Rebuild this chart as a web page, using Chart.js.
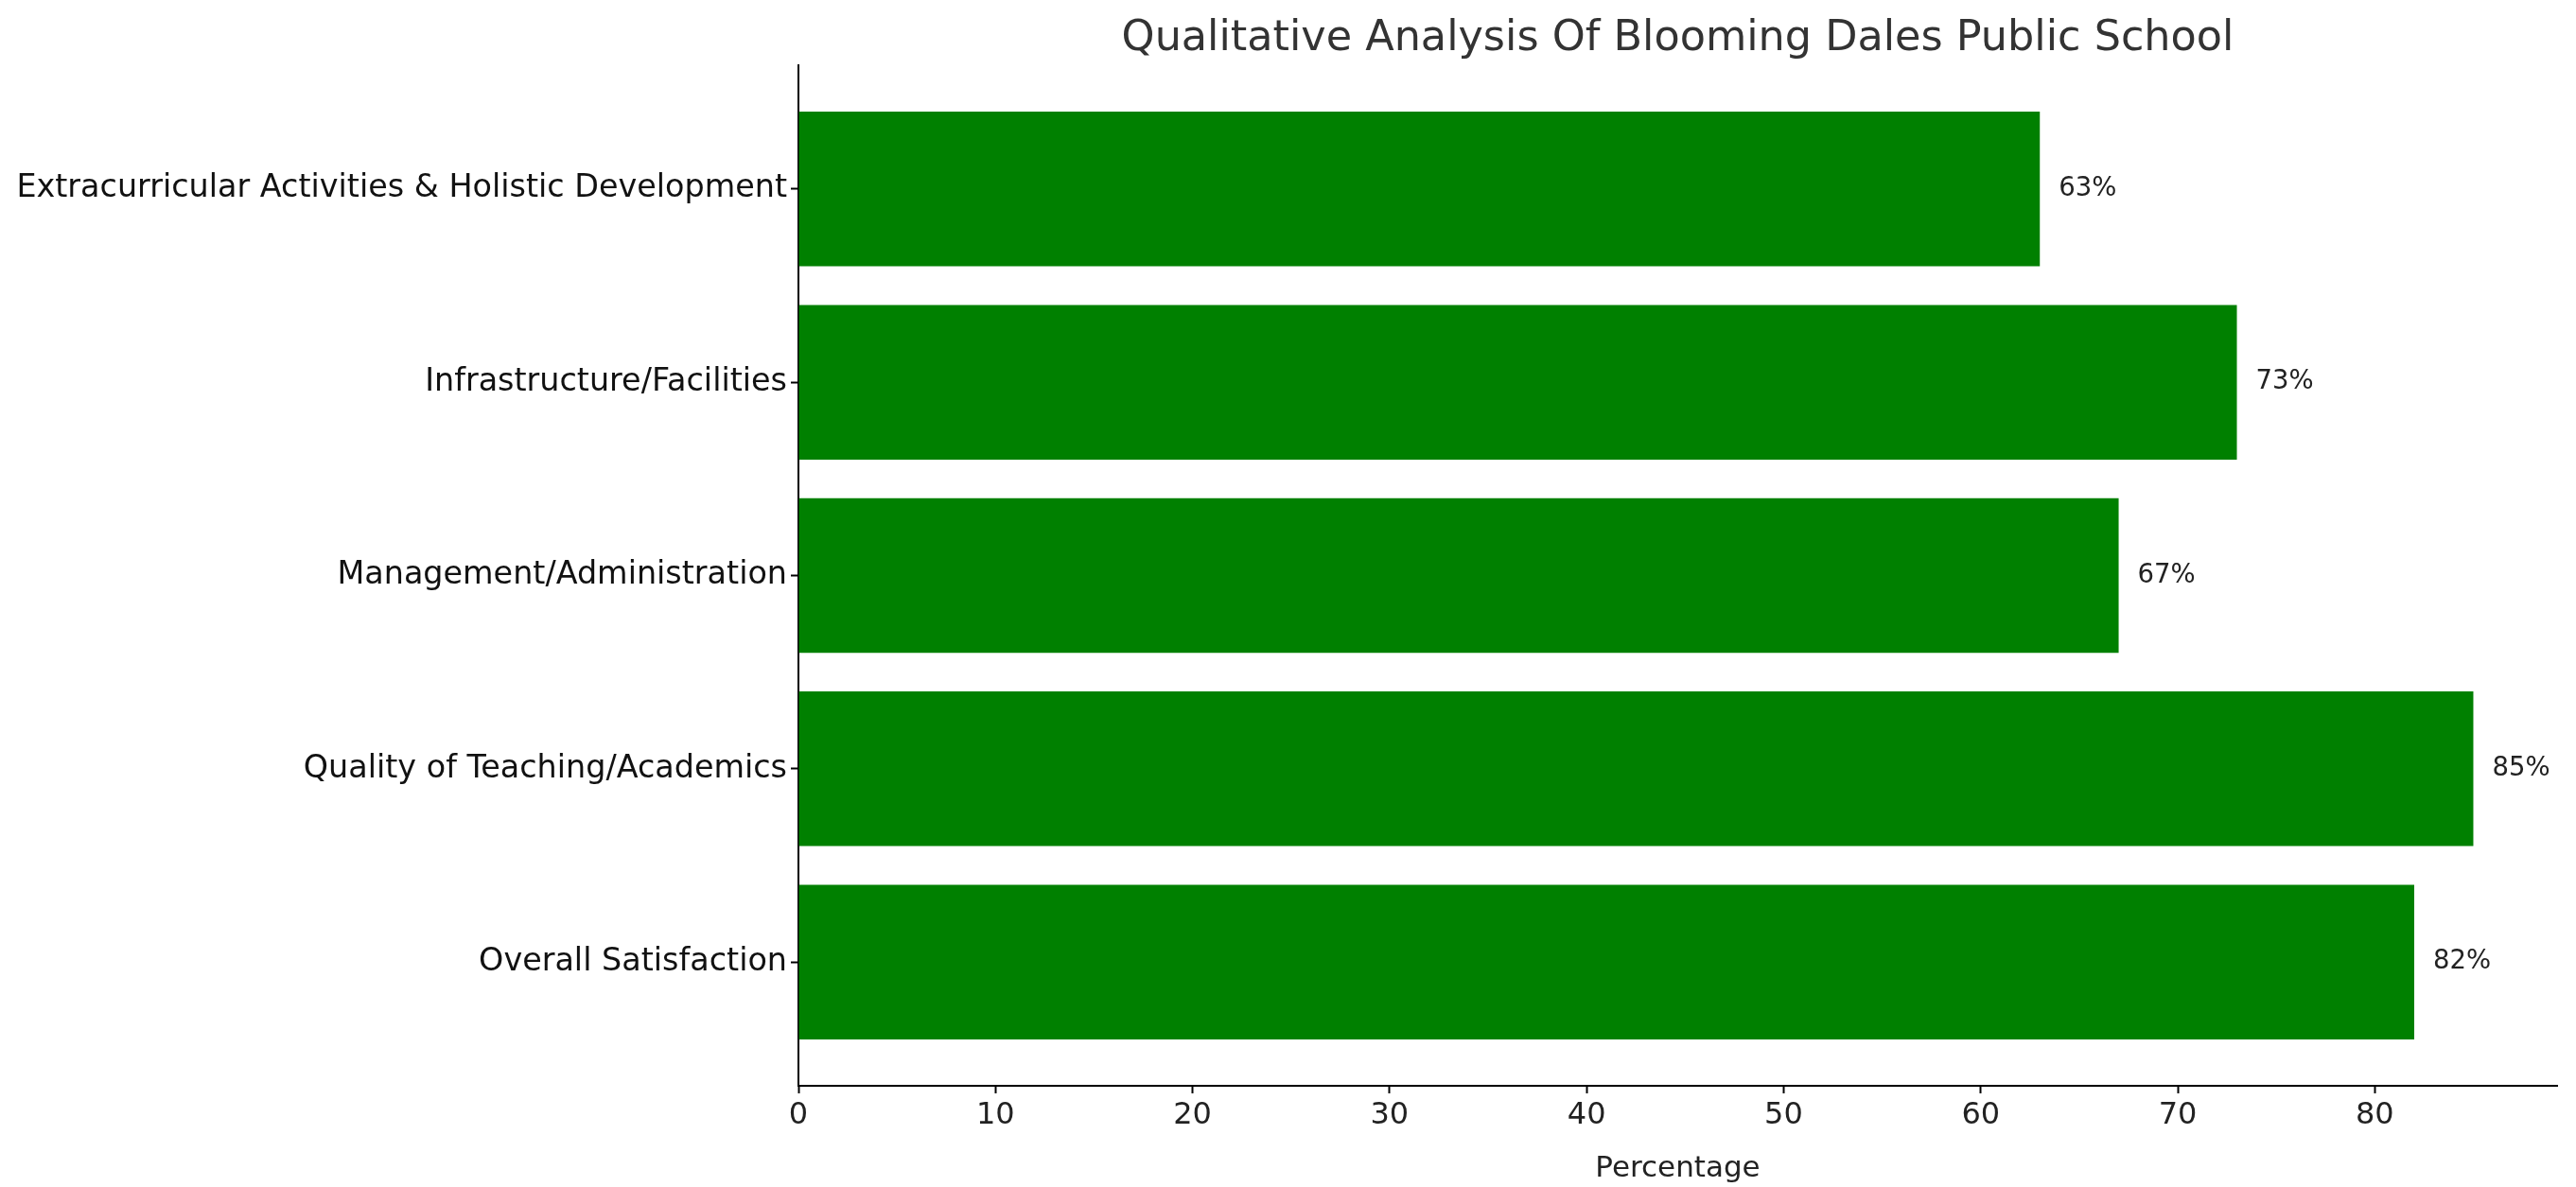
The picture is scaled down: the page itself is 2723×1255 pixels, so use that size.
<!DOCTYPE html>
<html><head><meta charset="utf-8">
<script src="https://cdn.jsdelivr.net/npm/chart.js@4/dist/chart.umd.min.js"></script>
<style>html,body{margin:0;padding:0;background:#fff}</style>
</head><body>
<canvas id="c" width="2723" height="1255"></canvas>
<script>
const categories = ["Overall Satisfaction","Quality of Teaching/Academics","Management/Administration","Infrastructure/Facilities","Extracurricular Activities & Holistic Development"];
const values = [82, 85, 67, 73, 63];
const xTicks = [0,10,20,30,40,50,60,70,80];
const FONT = "'DejaVu Sans', sans-serif";

const valueLabels = {
  id: 'valueLabels',
  afterDatasetsDraw(chart) {
    const ctx = chart.ctx;
    const meta = chart.getDatasetMeta(0);
    ctx.save();
    ctx.font = "27.5px " + FONT;
    ctx.fillStyle = "#222";
    ctx.textBaseline = "middle";
    meta.data.forEach((bar, i) => {
      ctx.fillText(values[i] + "%", bar.x + 20, bar.y);
    });
    ctx.fillStyle = "#333";
    ctx.font = "44.5px " + FONT;
    ctx.textAlign = "center";
    ctx.textBaseline = "middle";
    const ca = chart.chartArea;
    ctx.fillText("Qualitative Analysis Of Blooming Dales Public School", (ca.left + ca.right) / 2, 41);
    ctx.restore();
  }
};

new Chart(document.getElementById('c'), {
  type: 'bar',
  data: {
    datasets: [{
      data: values.map((v, i) => ({x: v, y: i})),
      backgroundColor: '#008000',
      barPercentage: 0.8,
      categoryPercentage: 1.0
    }]
  },
  options: {
    indexAxis: 'y',
    responsive: false,
    animation: false,
    devicePixelRatio: 1,
    layout: {padding: {top: 69, right: 20, left: 0, bottom: 0}},
    plugins: {legend: {display: false}, tooltip: {enabled: false}},
    scales: {
      x: {
        type: 'linear', min: 0, max: 89.25,
        afterBuildTicks(s) { s.ticks = xTicks.map(v => ({value: v})); },
        afterFit(s) { s.height = 107; },
        grid: {drawOnChartArea: false, tickLength: 8, color: '#000', tickWidth: 2},
        border: {color: '#000', width: 2},
        ticks: {color: '#222', font: {size: 32, family: FONT}, padding: 4},
        title: {display: true, text: 'Percentage', color: '#222', font: {size: 31, family: FONT}, padding: {top: 0, bottom: 0}}
      },
      y: {
        type: 'linear', min: -0.64, max: 4.64, offset: false,
        afterBuildTicks(s) { s.ticks = categories.map((c, i) => ({value: i})); },
        afterFit(s) { s.width = 844; },
        grid: {drawOnChartArea: false, offset: false, tickLength: 8, color: '#000', tickWidth: 2},
        border: {color: '#000', width: 2},
        ticks: {color: '#111', font: {size: 33.4, family: FONT}, padding: 4,
                callback: v => categories[v]}
      }
    }
  },
  plugins: [valueLabels]
});
</script>
</body></html>
